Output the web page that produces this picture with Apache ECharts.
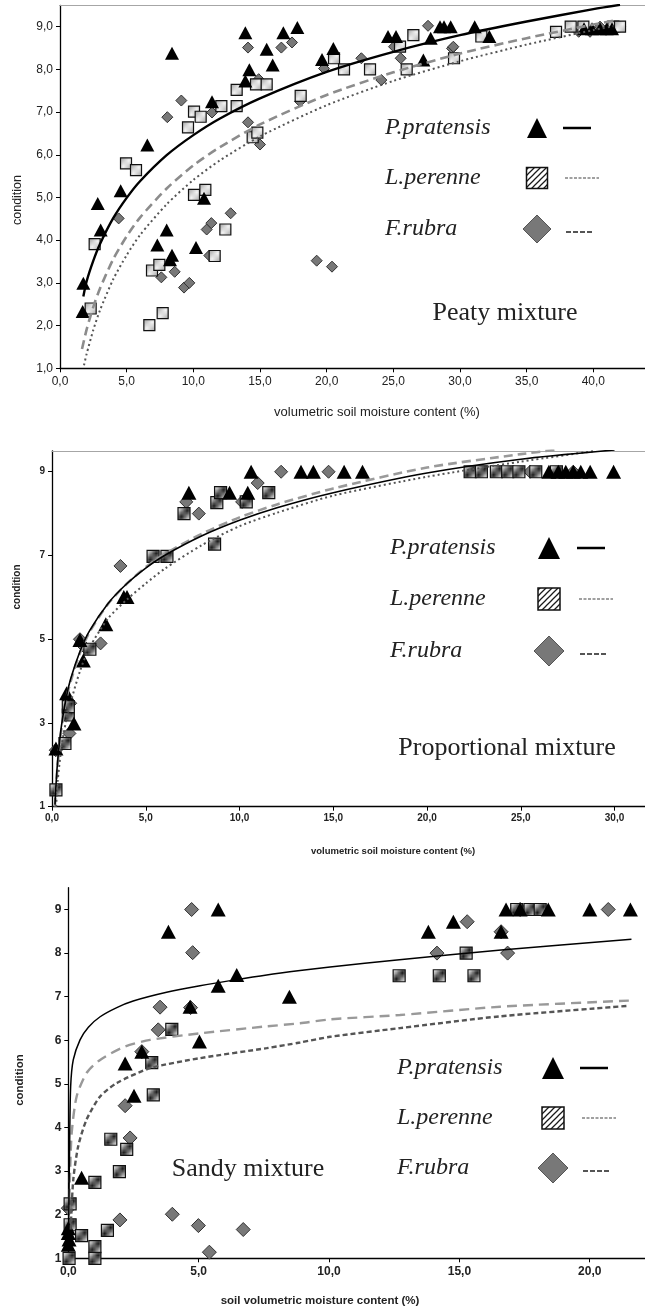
<!DOCTYPE html>
<html>
<head>
<meta charset="utf-8">
<script src="https://cdn.jsdelivr.net/npm/echarts@6.0.0/dist/echarts.min.js"></script>
<style>
  html, body { margin: 0; padding: 0; background: #fff; }
  #chart { width: 645px; height: 1312px; }
</style>
</head>
<body>
<div id="chart"></div>
<script>
// ---- Peaty mixture ----
const peatyPratensis = [[1.7,2.33],[1.75,2.99],[2.83,4.86],[3.05,4.24],[4.55,5.16],[6.55,6.23],[8.4,8.38],[7.3,3.89],[8.0,4.24],[8.25,3.54],[8.4,3.65],[10.2,3.83],[10.8,4.98],[11.4,7.24],[13.9,8.86],[13.9,7.73],[14.2,7.99],[15.5,8.47],[15.95,8.1],[16.75,8.86],[17.8,8.98],[19.65,8.23],[20.5,8.49],[24.6,8.77],[25.2,8.77],[27.25,8.22],[27.8,8.73],[28.5,9.0],[28.8,9.0],[29.3,9.0],[31.1,9.0],[32.2,8.77],[39.3,8.95],[39.9,8.95],[40.5,8.95],[41.0,8.95],[41.4,8.95]]
const peatyPerenne = [[2.3,2.4],[2.6,3.91],[4.95,5.8],[5.7,5.64],[6.7,2.01],[6.9,3.29],[7.45,3.42],[7.7,2.29],[9.6,6.64],[10.05,7.01],[10.55,6.89],[10.05,5.06],[10.9,5.18],[11.6,3.63],[12.4,4.25],[12.1,7.14],[13.25,7.14],[13.25,7.52],[14.45,6.41],[14.8,6.52],[14.7,7.65],[15.5,7.65],[18.05,7.38],[20.55,8.26],[21.3,8.0],[23.25,8.0],[25.5,8.53],[26.0,8.0],[26.5,8.8],[29.55,8.26],[31.6,8.77],[37.2,8.88],[38.3,9.0],[39.25,9.0],[41.5,9.0],[42.0,9.0]]
const peatyRubra = [[4.4,4.51],[7.6,3.13],[8.05,6.88],[8.6,3.26],[9.1,7.27],[9.3,2.89],[9.7,3.0],[11.0,4.25],[11.35,4.4],[11.2,3.64],[11.4,6.99],[12.8,4.63],[14.1,8.51],[14.1,6.76],[14.9,7.77],[15.0,6.24],[16.6,8.51],[17.4,8.63],[18.0,7.25],[19.25,3.52],[19.8,8.02],[20.4,3.38],[22.6,8.26],[24.1,7.75],[25.05,8.53],[25.55,8.26],[27.6,9.02],[29.4,8.49],[29.5,8.53],[38.9,8.88],[39.75,8.88],[40.5,9.0],[42.0,9.0]]
const peatyPratensisFitX = [1.75,2,2.5,3,4,5,6,8,10,12,15,20,25,30,35,40,42]
const peatyPratensisFitY = [2.68,3.04,3.52,3.91,4.52,4.99,5.38,5.99,6.46,6.85,7.32,7.94,8.41,8.80,9.12,9.41,9.51]
const peatyPerenneFitX = [1.65,2,2.5,3,4,5,6,8,10,12,15,20,25,30,35,40,41.7]
const peatyPerenneFitY = [1.45,1.91,2.44,2.87,3.56,4.09,4.53,5.21,5.75,6.18,6.71,7.40,7.93,8.37,8.73,9.05,9.15]
const peatyRubraFitX = [1.8,2,2.5,3,4,5,6,8,10,12,15,20,25,30,35,40,41.5]
const peatyRubraFitY = [1.07,1.34,1.90,2.36,3.09,3.65,4.12,4.84,5.41,5.87,6.43,7.16,7.73,8.19,8.58,8.92,9.01]

// ---- Proportional mixture ----
const propPratensis = [[0.21,2.39],[0.78,3.71],[1.17,2.99],[1.49,4.98],[1.67,4.49],[2.87,5.36],[3.83,6.01],[4.0,6.01],[7.3,8.5],[9.47,8.5],[10.44,8.5],[10.62,9.0],[13.28,9.0],[13.94,9.0],[15.58,9.0],[16.56,9.0],[26.5,9.0],[27.0,9.0],[27.4,9.0],[27.8,9.0],[28.2,9.0],[28.7,9.0],[29.95,9.0]]
const propPerenne = [[0.21,1.4],[0.69,2.51],[0.87,3.19],[0.87,3.39],[2.02,4.76],[5.39,6.98],[6.13,6.98],[7.04,8.0],[8.67,7.27],[8.79,8.26],[8.99,8.5],[10.36,8.28],[11.56,8.5],[22.3,9.0],[22.9,9.0],[23.7,9.0],[24.3,9.0],[24.9,9.0],[25.8,9.0],[26.9,9.0]]
const propRubra = [[0.2,2.35],[0.93,2.75],[0.97,3.47],[1.49,5.0],[1.72,4.82],[2.59,4.9],[3.65,6.75],[7.16,8.28],[7.83,8.0],[10.14,8.28],[10.97,8.73],[12.22,9.0],[14.75,9.0],[25.5,9.0],[27.8,9.0]]
const propPratensisFitX = [0.16,0.2,0.3,0.5,0.75,1,1.5,2,3,4,5,6,8,10,12,15,20,25,30]
const propPratensisFitY = [1.05,1.42,2.09,2.92,3.59,4.06,4.72,5.20,5.86,6.33,6.70,7.00,7.47,7.84,8.14,8.50,8.97,9.30,9.52]
const propPerenneFitX = [0.15,0.2,0.3,0.5,0.75,1,1.5,2,3,4,5,6,8,10,12,15,20,25,26.8]
const propPerenneFitY = [1.0,1.35,2.0,2.85,3.55,4.0,4.68,5.17,5.85,6.33,6.72,7.03,7.52,7.91,8.22,8.6,9.1,9.42,9.52]
const propRubraFitX = [0.22,0.3,0.5,0.75,1,1.5,2,3,4,5,6,8,10,12,15,20,25,29]
const propRubraFitY = [1.0,1.6,2.4,3.05,3.5,4.25,4.8,5.5,5.95,6.33,6.68,7.25,7.7,8.02,8.43,8.88,9.24,9.5]

// ---- Sandy mixture ----
const sandyPratensis = [[0.0,1.31],[0.03,1.43],[0.0,1.58],[0.0,1.69],[0.51,2.85],[2.18,5.47],[2.52,4.73],[2.82,5.74],[3.84,8.49],[4.67,6.77],[5.03,5.97],[5.75,9.0],[5.75,7.25],[6.46,7.5],[8.48,7.0],[13.81,8.49],[14.77,8.72],[16.6,8.49],[16.79,9.0],[17.33,9.0],[18.41,9.0],[20.0,9.0],[21.56,9.0]]
const sandyPerenne = [[0.07,2.25],[0.07,1.77],[0.03,1.0],[0.51,1.52],[1.02,1.27],[1.02,1.0],[1.02,2.74],[1.5,1.64],[1.63,3.73],[1.96,2.99],[2.24,3.5],[3.2,5.49],[3.26,4.75],[3.97,6.25],[12.69,7.48],[14.23,7.48],[15.56,7.48],[15.26,8.0],[17.2,9.0],[17.71,9.0],[18.1,9.0]]
const sandyRubra = [[0.0,2.15],[1.98,1.88],[2.18,4.5],[2.37,3.76],[2.82,5.74],[3.45,6.24],[3.52,6.76],[3.99,2.01],[4.69,6.75],[4.73,9.0],[4.77,8.01],[4.99,1.75],[5.41,1.14],[6.71,1.66],[14.14,8.0],[15.3,8.72],[16.6,8.49],[16.85,8.0],[17.33,9.0],[20.71,9.0]]
const sandyPratensisFitX = [0.01,0.05,0.09,0.19,0.45,0.77,1.22,1.86,2.49,3.77,5.05,6.33,7.61,8.89,10.04,12.7,16.6,21.6]
const sandyPratensisFitY = [1.58,3.6,4.94,5.55,6.01,6.3,6.54,6.75,6.9,7.1,7.25,7.38,7.5,7.6,7.68,7.85,8.07,8.32]
const sandyPerenneFitX = [0.03,0.06,0.13,0.32,0.7,1.22,2.18,3.14,5.05,7.61,8.89,10.04,12.72,16.56,21.5]
const sandyPerenneFitY = [2.0,2.8,3.87,4.71,5.25,5.55,5.86,6.01,6.16,6.32,6.39,6.48,6.58,6.77,6.91]
const sandyRubraFitX = [0.09,0.19,0.38,0.7,1.22,1.86,3.14,5.05,7.61,8.89,10.04,12.72,16.56,21.5]
const sandyRubraFitY = [1.66,2.8,3.57,4.18,4.71,5.02,5.36,5.59,5.82,5.95,6.08,6.28,6.55,6.79]

const legendNames = ['P.pratensis', 'L.perenne', 'F.rubra']
const panelTitles = ['Peaty mixture', 'Proportional mixture', 'Sandy mixture']

const zip = (xs, ys) => xs.map((x, i) => [x, ys[i]])
const comma1 = v => v.toFixed(1).replace('.', ',')
const isWhole = (v, step) => Math.abs(v / step - Math.round(v / step)) < 1e-6

function hatch(size, bg, fg, lw) {
  const c = document.createElement('canvas')
  c.width = size; c.height = size
  const ctx = c.getContext('2d')
  ctx.fillStyle = bg
  ctx.fillRect(0, 0, size, size)
  ctx.strokeStyle = fg
  ctx.lineWidth = lw
  ctx.beginPath()
  ctx.moveTo(-1, size + 1); ctx.lineTo(size + 1, -1)
  ctx.moveTo(-1, 1); ctx.lineTo(1, -1)
  ctx.moveTo(size - 1, size + 1); ctx.lineTo(size + 1, size - 1)
  ctx.stroke()
  return { image: c, repeat: 'repeat' }
}
const lightHatch = hatch(5, '#a6a6a6', '#f4f4f4', 1.3)
const darkHatch = hatch(6, '#ffffff', '#1a1a1a', 1.25)

const SANS = '"Liberation Sans", Arial, sans-serif'
const SERIF = '"Liberation Serif", "Times New Roman", serif'

function scatter(data, kind, size, xi, yi, hatchFill) {
  const base = { type: 'scatter', xAxisIndex: xi, yAxisIndex: yi, data, clip: false, z: 3 }
  if (kind === 'tri') {
    return { ...base, symbol: 'triangle', symbolSize: [size, size - 1], itemStyle: { color: '#000', opacity: 1 }, z: 4 }
  }
  if (kind === 'sq') {
    return { ...base, symbol: 'rect', symbolSize: size, itemStyle: { color: hatchFill, borderColor: '#111', borderWidth: 1.2, opacity: 1 } }
  }
  return { ...base, symbol: 'diamond', symbolSize: [size, size], itemStyle: { color: '#787878', borderColor: '#333', borderWidth: 1, opacity: 1 }, z: 2 }
}

function fit(data, color, width, type, xi, yi) {
  return {
    type: 'line', xAxisIndex: xi, yAxisIndex: yi, data, showSymbol: false, symbol: 'none',
    smooth: 0.25, z: 5,
    lineStyle: { color, width, type }
  }
}

const gridBase = { outerBoundsMode: 'none', containLabel: false }

function bottomX(gi, max, step, font) {
  return {
    gridIndex: gi, type: 'value', min: 0, max, interval: step,
    axisLine: { onZero: false, lineStyle: { color: '#000', width: 1.3 } },
    axisTick: { length: 4, lineStyle: { color: '#000' } },
    splitLine: { show: false },
    axisLabel: {
      formatter: v => (isWhole(v, step) && v <= max - 1 ? comma1(v) : ''),
      color: '#222', margin: 7, ...font
    }
  }
}

function topX(gi, max) {
  return {
    gridIndex: gi, type: 'value', position: 'top', min: 0, max,
    axisLine: { show: true, onZero: false, lineStyle: { color: '#a6a6a6', width: 1.2 } },
    axisTick: { show: false }, axisLabel: { show: false }, splitLine: { show: false }
  }
}

function leftY(gi, step, fmt, font) {
  return {
    gridIndex: gi, type: 'value', min: 1, max: 9.5, interval: step,
    axisLine: { show: true, lineStyle: { color: '#000', width: 1.3 } },
    axisTick: { show: true, length: 4, lineStyle: { color: '#000' } },
    splitLine: { show: false },
    axisLabel: { formatter: v => (isWhole(v - 1, step) ? fmt(v) : ''), showMaxLabel: false, color: '#222', margin: 7, ...font }
  }
}

function txt(x, y, text, font, align, rotation) {
  return {
    type: 'text', x, y, rotation: rotation || 0, silent: true, z: 20,
    style: { text, font, fill: '#222', align: align || 'left', verticalAlign: 'middle', textAlign: align || 'left', textVerticalAlign: 'middle' }
  }
}

function legendBlock(tx, ys, symX, lineX, sizes) {
  const [tri, sq, dia] = sizes
  const font = 'italic 24px ' + SERIF
  return [
    txt(tx, ys[0], legendNames[0], font),
    txt(tx, ys[1], legendNames[1], font),
    txt(tx, ys[2], legendNames[2], font),
    { type: 'polygon', z: 20, shape: { points: [[symX, ys[0] - tri / 2], [symX + tri / 2, ys[0] + tri / 2], [symX - tri / 2, ys[0] + tri / 2]] }, style: { fill: '#000' } },
    { type: 'rect', z: 20, shape: { x: symX - sq / 2, y: ys[1] - sq / 2, width: sq, height: sq }, style: { fill: darkHatch, stroke: '#111', lineWidth: 1.5 } },
    { type: 'polygon', z: 20, shape: { points: [[symX, ys[2] - dia / 2], [symX + dia / 2, ys[2]], [symX, ys[2] + dia / 2], [symX - dia / 2, ys[2]]] }, style: { fill: '#787878', stroke: '#555', lineWidth: 1 } },
    { type: 'line', z: 20, shape: { x1: lineX, y1: ys[0], x2: lineX + 28, y2: ys[0] }, style: { stroke: '#000', lineWidth: 2.5 } },
    { type: 'line', z: 20, shape: { x1: lineX + 2, y1: ys[1], x2: lineX + 36, y2: ys[1] }, style: { stroke: '#a0a0a0', lineWidth: 2, lineDash: [3, 1.5] } },
    { type: 'line', z: 20, shape: { x1: lineX + 3, y1: ys[2] + 3, x2: lineX + 31, y2: ys[2] + 3 }, style: { stroke: '#555', lineWidth: 2.2, lineDash: [5, 2] } }
  ]
}

const el = document.getElementById('chart')
const chart = echarts.init(el, null, { renderer: 'canvas' })

const p1Font = { fontSize: 12, fontFamily: SANS }
const p2Font = { fontSize: 10, fontFamily: SANS, fontWeight: 'bold' }
const p3Font = { fontSize: 12, fontFamily: SANS, fontWeight: 'bold' }

chart.setOption({
  animation: false,
  backgroundColor: '#fff',
  grid: [
    { ...gridBase, left: 60, top: 5.3, width: 586.7, height: 363 },
    { ...gridBase, left: 52, top: 450.8, width: 594.4, height: 355.9 },
    { ...gridBase, left: 68.3, top: 887.7, width: 578.8, height: 370.6 }
  ],
  xAxis: [
    bottomX(0, 44, 5, p1Font),
    topX(0, 44),
    bottomX(1, 31.7, 5, p2Font),
    topX(1, 31.7),
    bottomX(2, 22.2, 5, p3Font)
  ],
  yAxis: [
    leftY(0, 1, comma1, p1Font),
    leftY(1, 2, v => String(Math.round(v)), p2Font),
    leftY(2, 1, v => String(Math.round(v)), p3Font)
  ],
  series: [
    scatter(peatyRubra, 'dia', 11, 0, 0),
    scatter(peatyPerenne, 'sq', 11, 0, 0, lightHatch),
    scatter(peatyPratensis, 'tri', 14, 0, 0),
    fit(zip(peatyPerenneFitX, peatyPerenneFitY), '#8c8c8c', 2.6, [9, 5], 0, 0),
    fit(zip(peatyRubraFitX, peatyRubraFitY), '#555', 2, [2, 3], 0, 0),
    fit(zip(peatyPratensisFitX, peatyPratensisFitY), '#000', 2.4, 'solid', 0, 0),

    scatter(propRubra, 'dia', 13, 2, 1),
    scatter(propPerenne, 'sq', 12, 2, 1, darkHatch),
    scatter(propPratensis, 'tri', 15, 2, 1),
    fit(zip(propPerenneFitX, propPerenneFitY), '#9a9a9a', 2.6, [9, 5], 2, 1),
    fit(zip(propRubraFitX, propRubraFitY), '#555', 2, [2, 3], 2, 1),
    fit(zip(propPratensisFitX, propPratensisFitY), '#000', 1.6, 'solid', 2, 1),

    scatter(sandyRubra, 'dia', 14, 4, 2),
    scatter(sandyPerenne, 'sq', 12, 4, 2, darkHatch),
    scatter(sandyPratensis, 'tri', 15, 4, 2),
    fit(zip(sandyPerenneFitX, sandyPerenneFitY), '#999', 2.4, [10, 6], 4, 2),
    fit(zip(sandyRubraFitX, sandyRubraFitY), '#555', 2.4, [5, 3], 4, 2),
    fit(zip(sandyPratensisFitX, sandyPratensisFitY), '#000', 1.5, 'solid', 4, 2)
  ],
  graphic: [
    txt(18, 200, 'condition', '12.5px ' + SANS, 'center', Math.PI / 2),
    txt(377, 412, 'volumetric soil moisture content (%)', '13px ' + SANS, 'center'),
    txt(505, 313, panelTitles[0], '26px ' + SERIF, 'center'),
    ...legendBlock(385, [128, 178, 229], 537, 563, [20, 21, 28]),

    txt(17, 587, 'condition', 'bold 10px ' + SANS, 'center', Math.PI / 2),
    txt(393, 851, 'volumetric soil moisture content (%)', 'bold 9.5px ' + SANS, 'center'),
    txt(507, 748, panelTitles[1], '26px ' + SERIF, 'center'),
    ...legendBlock(390, [548, 599, 651], 549, 577, [22, 22, 30]),

    txt(20, 1080, 'condition', 'bold 11.5px ' + SANS, 'center', Math.PI / 2),
    txt(320, 1301, 'soil volumetric moisture content (%)', 'bold 11.5px ' + SANS, 'center'),
    txt(248, 1169, panelTitles[2], '26px ' + SERIF, 'center'),
    ...legendBlock(397, [1068, 1118, 1168], 553, 580, [22, 22, 30])
  ]
})

window.addEventListener('resize', () => chart.resize())
</script>
</body>
</html>
